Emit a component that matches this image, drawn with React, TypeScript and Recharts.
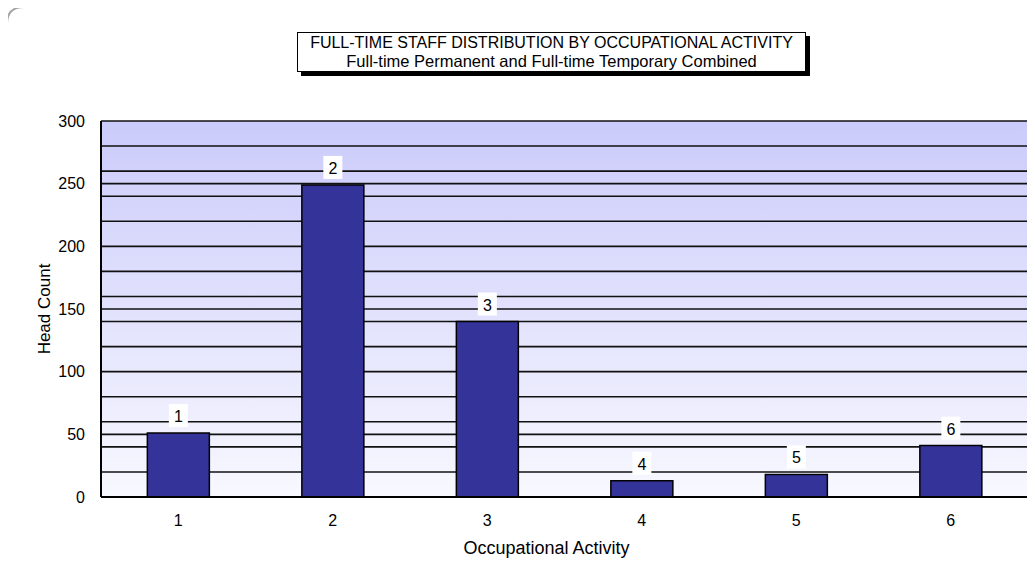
import { Bar, BarChart, CartesianGrid, XAxis, YAxis, LabelList } from "recharts";

const categories = ["1", "2", "3", "4", "5", "6"];
const headCount = [51, 249, 140, 13, 18, 41];
const yTicks = [0, 50, 100, 150, 200, 250, 300];
// the sheet draws a line every 20 plus the labelled 50s
const gridValues = [20, 40, 50, 60, 80, 100, 120, 140, 150, 160, 180, 200, 220, 240, 250, 260, 280, 300];

const data = categories.map((c, i) => ({ name: c, count: headCount[i] }));

const font = "'Liberation Sans', Arial, sans-serif";

function BoxLabel(props: any) {
  const { x, y, width, value } = props;
  const cx = x + width / 2;
  return (
    <g>
      <rect x={cx - 9.5} y={y - 29} width={19} height={23} fill="#ffffff" />
      <text x={cx} y={y - 11} textAnchor="middle" fontSize={16} fontFamily={font} fill="#000">
        {value}
      </text>
    </g>
  );
}

export default function App() {
  return (
    <div style={{ position: "relative", width: 1035, height: 582, marginLeft: -8, marginTop: -8, overflow: "hidden", background: "#fff", fontFamily: font }}>
      <BarChart
        width={1035}
        height={582}
        data={data}
        margin={{ top: 121, right: 7, bottom: 0, left: 0 }}
        barCategoryGap="30%"
      >
        <defs>
          <linearGradient id="plotBg" x1="0" y1="0" x2="0" y2="1">
            <stop offset="0%" stopColor="#cbcbfb" />
            <stop offset="100%" stopColor="#f8f8ff" />
          </linearGradient>
        </defs>
        <CartesianGrid
          vertical={false}
          fill="url(#plotBg)"
          fillOpacity={1}
          stroke="#111"
          strokeWidth={1.6}
          horizontalValues={gridValues}
        />
        <XAxis
          dataKey="name"
          height={85}
          tickLine={false}
          tickSize={0}
          tickMargin={18}
          axisLine={{ stroke: "#000", strokeWidth: 2 }}
          tick={{ fill: "#000", fontSize: 16, fontFamily: font }}
          label={{
            value: "Occupational Activity",
            position: "insideBottom",
            offset: 28,
            dx: -18,
            fill: "#000",
            fontSize: 18,
            fontFamily: font,
          }}
        />
        <YAxis
          width={101}
          domain={[0, 300]}
          ticks={yTicks}
          interval={0}
          tickLine={false}
          tickSize={0}
          tickMargin={16}
          axisLine={{ stroke: "#000", strokeWidth: 2 }}
          tick={{ fill: "#000", fontSize: 16, fontFamily: font }}
          label={{
            value: "Head Count",
            angle: -90,
            position: "insideLeft",
            offset: 44,
            fill: "#000",
            fontSize: 17,
            fontFamily: font,
            style: { textAnchor: "middle" },
          }}
        />
        <Bar dataKey="count" fill="#333399" stroke="#000" strokeWidth={1.5} isAnimationActive={false}>
          <LabelList dataKey="name" content={BoxLabel} />
        </Bar>
      </BarChart>
      <svg
        width={1035}
        height={582}
        style={{ position: "absolute", left: 0, top: 0, pointerEvents: "none", zIndex: 2 }}
      >
        <path
          d="M 7 595 L 7 24 Q 7 7 24 7 L 1040 7"
          fill="none"
          stroke="#a6a6a6"
          strokeWidth={2}
        />
      </svg>
      <div
        style={{
          position: "absolute",
          left: 297,
          top: 32,
          width: 509,
          height: 40,
          border: "1px solid #000",
          boxShadow: "4px 4px 0 #000",
          background: "#fff",
          boxSizing: "border-box",
          textAlign: "center",
          fontSize: 16,
          lineHeight: "18px",
          paddingTop: 1,
          color: "#000",
          zIndex: 3,
        }}
      >
        <div>FULL-TIME STAFF DISTRIBUTION BY OCCUPATIONAL ACTIVITY</div>
        <div style={{ fontSize: 16.5 }}>Full-time Permanent and Full-time Temporary Combined</div>
      </div>
    </div>
  );
}
